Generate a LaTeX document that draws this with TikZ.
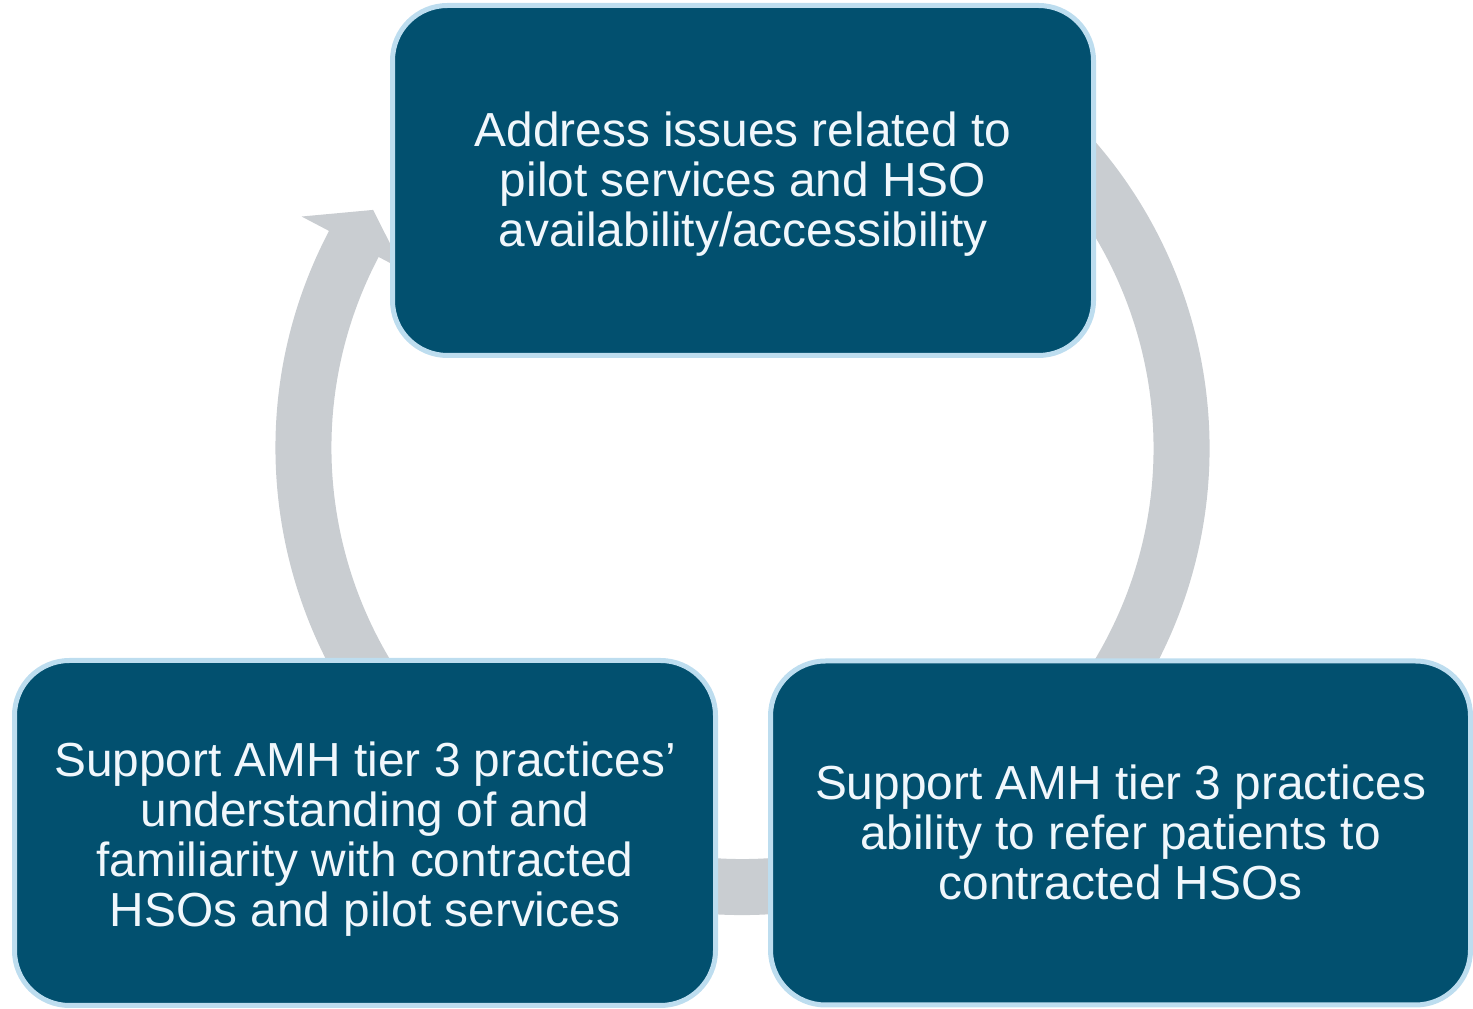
\documentclass[tikz,border=0pt]{standalone}
\usepackage{fontspec}
\setmainfont{Liberation Sans}
\definecolor{boxfill}{RGB}{2,80,111}
\definecolor{boxedge}{RGB}{189,221,239}
\definecolor{ringgray}{RGB}{201,205,209}
\definecolor{boxtext}{RGB}{240,247,252}
% centred lines of a stage, lowered by the first argument while keeping their box size
\newcommand\stagelines[2]{\raisebox{-#1}[\height][\depth]{\begin{tabular}{@{}c@{}}#2\end{tabular}}}
\begin{document}
\begin{tikzpicture}[x=1pt,y=1pt,
  stagebox/.style={rectangle, draw=boxedge, fill=boxfill, line width=5pt,
    rounded corners=55pt, inner sep=0pt, text=boxtext,
    font=\fontsize{47.8}{50}\selectfont}]
\useasboundingbox (0,0) rectangle (1473,1009);

% circular arrow running clockwise behind the three stages
\begin{scope}[shift={(742.5,561)}]
  \fill[ringgray]
    (60:467pt) arc[start angle=60, end angle=-207.7, radius=467pt]
    -- (-207.7:498pt) -- (147.2:439.5pt) -- (-207.7:383pt)
    -- (-207.7:411pt) arc[start angle=-207.7, end angle=60, radius=411pt]
    -- cycle;
\end{scope}

% the three stages of the cycle
\node[stagebox, minimum width=701pt, minimum height=350pt] (address) at (743,828.5)
  {\stagelines{6pt}{Address issues related to\\pilot services and HSO\\availability/accessibility}};
\node[stagebox, minimum width=701pt, minimum height=345pt] (familiarity) at (365,176)
  {\stagelines{9pt}{Support AMH tier 3 practices’\\understanding of and\\familiarity with contracted\\HSOs and pilot services}};
\node[stagebox, minimum width=700pt, minimum height=344pt] (referral) at (1120.5,176)
  {\stagelines{7pt}{Support AMH tier 3 practices\\ability to refer patients to\\contracted HSOs}};
\end{tikzpicture}
\end{document}
